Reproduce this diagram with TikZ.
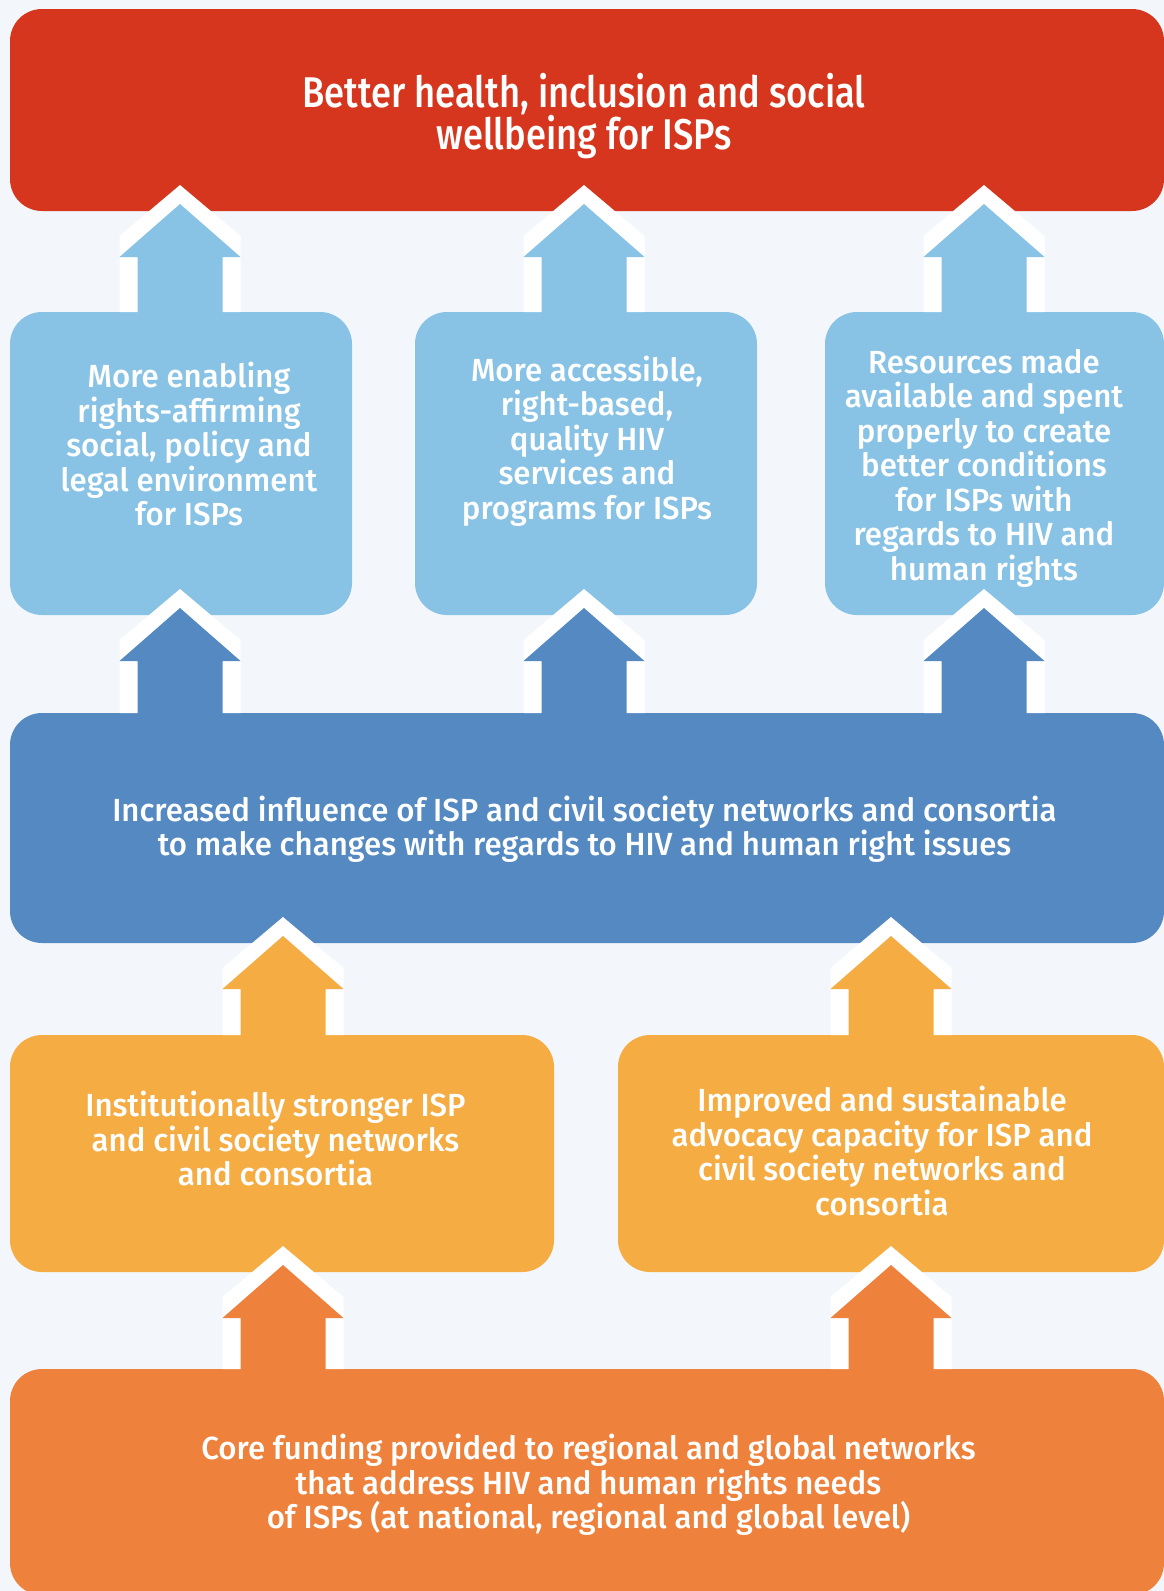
\documentclass[tikz,border=0pt]{standalone}
\usepackage{fontspec}
\setmainfont{Fira Sans}[UprightFont={* Medium}, FakeStretch=0.975]
\newfontfamily\headfont{Fira Sans}[UprightFont={* Medium}, FakeStretch=0.845]
\usetikzlibrary{calc}

\definecolor{pagebg}{HTML}{F3F7FC}
\definecolor{goalred}{HTML}{D5361D}
\definecolor{skyblue}{HTML}{88C3E6}
\definecolor{midblue}{HTML}{5489C2}
\definecolor{amber}{HTML}{F5AC43}
\definecolor{deeporange}{HTML}{EE823C}

\tikzset{
  box/.style={rectangle, rounded corners=32pt, inner sep=0pt, outer sep=0pt, draw=none},
  bodytext/.style={text=white, align=center, inner sep=0pt,
    font=\fontsize{32}{34.5}\selectfont},
  titletext/.style={text=white, align=center, inner sep=0pt,
    font=\headfont\fontsize{43}{41}\selectfont},
  halo/.style={fill=white},
}

% block arrow from the top edge of a lower box into an upper box
% #1 = x position, #2 = lower node, #3 = upper node, #4 = colour
\newcommand\blockarrow[4]{%
  \path (#1,0 |- #2.north) coordinate (ab);
  \path (#1,0 |- #3.south) ++(0,-26) coordinate (at);
  \fill[halo] ($(ab)+(-60.5,0)$) -- ($(at)+(-60.5,51)$) -- (at)
     -- ($(at)+(60.5,51)$) -- ($(ab)+(60.5,0)$) -- cycle;
  \fill[#4] ($(ab)+(-42.5,1)$) -- ($(at)+(-42.5,72)$) -- ($(at)+(-60.5,72)$)
     -- ($(at)+(0,19)$) -- ($(at)+(60.5,72)$) -- ($(at)+(42.5,72)$)
     -- ($(ab)+(42.5,1)$) -- cycle;
}

\begin{document}
\begin{tikzpicture}[x=1pt,y=-1pt]
  \fill[pagebg] (0,0) rectangle (1164,1591);
  \useasboundingbox (0,0) rectangle (1164,1591);

  % boxes
  \node[box, fill=goalred, minimum width=1154pt, minimum height=202pt] (goal) at (587,110) {};
  \node[box, fill=skyblue, minimum width=342pt, minimum height=303pt] (sb1) at (181,463.5) {};
  \node[box, fill=skyblue, minimum width=342pt, minimum height=303pt] (sb2) at (586,463.5) {};
  \node[box, fill=skyblue, minimum width=339pt, minimum height=303pt] (sb3) at (994.5,463.5) {};
  \node[box, fill=midblue, minimum width=1154pt, minimum height=230pt] (mid) at (587,828) {};
  \node[box, fill=amber, minimum width=544pt, minimum height=237pt] (am1) at (282,1153.5) {};
  \node[box, fill=amber, minimum width=546pt, minimum height=237pt] (am2) at (891,1153.5) {};
  \node[box, fill=deeporange, minimum width=1154pt, minimum height=226pt] (core) at (587,1482) {};

  % arrows
  \blockarrow{180}{sb1}{goal}{skyblue}
  \blockarrow{584}{sb2}{goal}{skyblue}
  \blockarrow{984}{sb3}{goal}{skyblue}
  \blockarrow{180}{mid}{sb1}{midblue}
  \blockarrow{584}{mid}{sb2}{midblue}
  \blockarrow{984}{mid}{sb3}{midblue}
  \blockarrow{283}{am1}{mid}{amber}
  \blockarrow{891}{am2}{mid}{amber}
  \blockarrow{283}{core}{am1}{deeporange}
  \blockarrow{891}{core}{am2}{deeporange}

  % texts
  \node[titletext] (tgoal) at (584,116) {Better health, inclusion and social\\wellbeing for ISPs};
  \node[bodytext] (tsb1) at (189,444) {More enabling\\rights-affirming\\social, policy and\\legal environment\\for ISPs};
  \node[bodytext] (tsb2) at (587,441) {More accessible,\\right-based,\\quality HIV\\services and\\programs for ISPs};
  \node[bodytext] (tsb3) at (984,468) {Resources made\\available and spent\\properly to create\\better conditions\\for ISPs with\\regards to HIV and\\human rights};
  \node[bodytext] (tmid) at (584.5,829) {Increased influence of ISP and civil society networks and consortia\\to make changes with regards to HIV and human right issues};
  \node[bodytext] (tam1) at (275.5,1138.5) {Institutionally stronger ISP\\and civil society networks\\and consortia};
  \node[bodytext] (tam2) at (882,1151) {Improved and sustainable\\advocacy capacity for ISP and\\civil society networks and\\consortia};
  \node[bodytext] (tcore) at (588.5,1485) {Core funding provided to regional and global networks\\that address HIV and human rights needs\\of ISPs (at national, regional and global level)};
\end{tikzpicture}
\end{document}
